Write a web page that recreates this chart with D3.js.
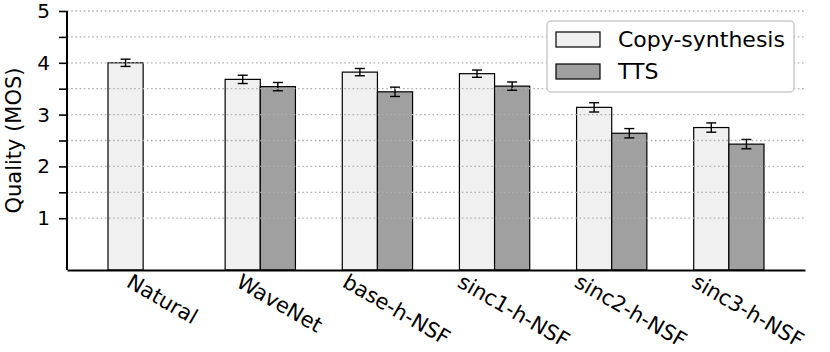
<!DOCTYPE html>
<html>
<head>
<meta charset="utf-8">
<script src="https://cdn.jsdelivr.net/npm/d3@7"></script>
<style>
  body { margin: 0; background: #fff; }
  text { font-family: "DejaVu Sans", sans-serif; }
</style>
</head>
<body>
<div id="graph1"></div>
<script>
//data
let categories = ["Natural", "WaveNet", "base-h-NSF", "sinc1-h-NSF", "sinc2-h-NSF", "sinc3-h-NSF"];
let copySynthesis = [4.00, 3.68, 3.82, 3.79, 3.14, 2.75];
let copyErr = [0.07, 0.08, 0.07, 0.07, 0.09, 0.09];
let tts = [null, 3.54, 3.44, 3.55, 2.64, 2.43];
let ttsErr = [null, 0.08, 0.09, 0.08, 0.09, 0.09];
let yTicks = [1, 1.5, 2, 2.5, 3, 3.5, 4, 4.5, 5];
let seriesNames = ["Copy-synthesis", "TTS"];
let seriesColors = ["#f0f0f0", "#a0a0a0"];

let width = 830, height = 352;
let margin = {top: 11, right: 25, bottom: 82, left: 67};
let plotW = width - margin.left - margin.right;
let plotH = height - margin.top - margin.bottom;
let barW = 0.3;

let svg = d3.select("#graph1")
    .append("svg")
    .attr("width", width)
    .attr("height", height)
    .append("g")
    .attr("transform", `translate(${margin.left},${margin.top})`);

//scales
let x = d3.scaleLinear()
    .domain([-0.65, categories.length - 0.35])
    .range([0, plotW]);

let y = d3.scaleLinear()
    .domain([0, 5])
    .range([plotH, 0]);

let bw = x(barW) - x(0);

//bars, copy-synthesis on the left half, TTS on the right half of each group
let series = [
    {name: seriesNames[0], values: copySynthesis, err: copyErr, off: -1},
    {name: seriesNames[1], values: tts, err: ttsErr, off: 0}
];

series.forEach(function(s, k) {
    let rows = s.values.map(function(v, i) { return {i: i, v: v, e: s.err[i]} })
        .filter(function(d) { return d.v !== null });

    svg.append("g").selectAll("rect").data(rows)
        .enter()
        .append("rect")
        .attr("x", function(d) { return x(d.i) + s.off * bw })
        .attr("y", function(d) { return y(d.v) })
        .attr("width", bw)
        .attr("height", function(d) { return y(0) - y(d.v) })
        .attr("fill", seriesColors[k])
        .attr("stroke", "#000")
        .attr("stroke-width", 1.2);

    //error bars
    let eb = svg.append("g").selectAll("g").data(rows)
        .enter()
        .append("g")
        .attr("transform", function(d) { return `translate(${x(d.i) + s.off * bw + bw / 2},0)` })
        .attr("stroke", "#000")
        .attr("stroke-width", 1.4);
    eb.append("line")
        .attr("y1", function(d) { return y(d.v - d.e) })
        .attr("y2", function(d) { return y(d.v + d.e) });
    eb.append("line")
        .attr("x1", -5).attr("x2", 5)
        .attr("y1", function(d) { return y(d.v - d.e) })
        .attr("y2", function(d) { return y(d.v - d.e) });
    eb.append("line")
        .attr("x1", -5).attr("x2", 5)
        .attr("y1", function(d) { return y(d.v + d.e) })
        .attr("y2", function(d) { return y(d.v + d.e) });
});

//dotted grid, drawn over the bars
svg.append("g").selectAll("line").data(yTicks)
    .enter()
    .append("line")
    .attr("x1", 0)
    .attr("x2", plotW)
    .attr("y1", function(d) { return y(d) })
    .attr("y2", function(d) { return y(d) })
    .attr("stroke", "#b0b0b0")
    .attr("stroke-width", 1.3)
    .attr("stroke-dasharray", "1.6,2.6");

//y axis
let yAxis = svg.append("g")
    .call(d3.axisLeft(y).tickValues(yTicks).tickSize(8).tickPadding(9).tickSizeOuter(0)
        .tickFormat(function(d) { return d % 1 === 0 ? d : "" }));
yAxis.select(".domain").attr("stroke-width", 2).attr("d", `M0,${y(5)}V${y(0)}`);
yAxis.selectAll(".tick line").attr("stroke-width", 1.6);
yAxis.selectAll(".tick text").style("font-size", "20px").attr("fill", "#000");

//x axis with rotated labels
let xAxis = svg.append("g")
    .attr("transform", `translate(0,${plotH})`)
    .call(d3.axisBottom(x).tickValues(d3.range(categories.length)).tickSize(0).tickSizeOuter(0)
        .tickFormat(function(i) { return categories[i] }));
xAxis.select(".domain").attr("stroke-width", 2);
xAxis.selectAll(".tick text")
    .style("font-size", "21px")
    .attr("fill", "#000")
    .attr("text-anchor", "middle")
    .attr("dominant-baseline", "central")
    .attr("y", 0).attr("dy", 0)
    .attr("transform", function() {
        let w = this.getComputedTextLength();
        let bh = w * 0.5 + 16 * 0.866;
        return `translate(${bw / 2 + 1},${3 + bh / 2}) rotate(30)`;
    });

//y label
svg.append("text")
    .attr("transform", `translate(${-46},${plotH / 2}) rotate(-90)`)
    .style("text-anchor", "middle")
    .style("font-size", "21px")
    .text("Quality (MOS)");

//legend
let legend = svg.append("g")
    .attr("transform", `translate(${547 - margin.left},${21 - margin.top})`);
legend.append("rect")
    .attr("width", 247)
    .attr("height", 71)
    .attr("rx", 4)
    .attr("fill", "#fff")
    .attr("stroke", "#cccccc")
    .attr("stroke-width", 1.5);
seriesNames.forEach(function(name, k) {
    legend.append("rect")
        .attr("x", 9)
        .attr("y", 11 + k * 32)
        .attr("width", 44)
        .attr("height", 15)
        .attr("fill", seriesColors[k])
        .attr("stroke", "#000")
        .attr("stroke-width", 1.2);
    legend.append("text")
        .attr("x", 71)
        .attr("y", 26 + k * 32)
        .style("font-size", "22px")
        .text(name);
});
</script>
</body>
</html>
